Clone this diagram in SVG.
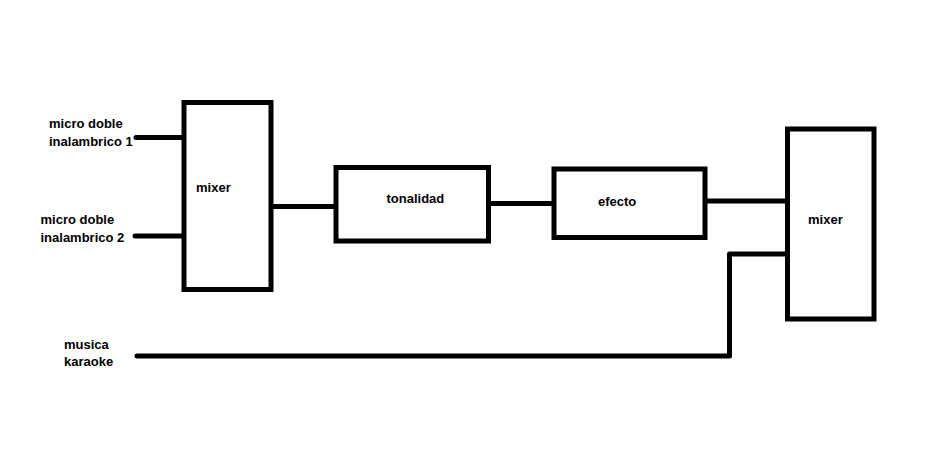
<svg xmlns="http://www.w3.org/2000/svg" width="942" height="453" viewBox="0 0 942 453">
<style>
.box{fill:#fff;stroke:#000;stroke-width:5}
.wire{fill:none;stroke:#000;stroke-width:5;stroke-linecap:round;stroke-linejoin:round}
text{font-family:"Liberation Sans",Arial,sans-serif;font-weight:bold;font-size:13px;fill:#000}
</style>
<rect width="942" height="453" fill="#fff"/>
<g id="connectors">
<path class="wire" d="M136,137.5 H184"/>
<path class="wire" d="M135,236 H184"/>
<path class="wire" d="M271,206.5 H336"/>
<path class="wire" d="M488,203.5 H554"/>
<path class="wire" d="M705,201 H787"/>
<path class="wire" d="M137,356 H729.5 V254 H787"/>
</g>
<g id="mic1"><text x="49" y="128">micro doble</text><text x="49" y="145.5">inalambrico 1</text></g>
<g id="mic2"><text x="40.5" y="224">micro doble</text><text x="40.5" y="241.5">inalambrico 2</text></g>
<g id="karaoke"><text x="64" y="348.5">musica</text><text x="64" y="366">karaoke</text></g>
<g id="mixer1"><rect class="box" x="184" y="102.5" width="87" height="187"/><text x="196" y="192">mixer</text></g>
<g id="tonalidad"><rect class="box" x="336" y="167.5" width="152.5" height="73.5"/><text x="386.5" y="203">tonalidad</text></g>
<g id="efecto"><rect class="box" x="554" y="169" width="151" height="68.5"/><text x="598" y="205.5">efecto</text></g>
<g id="mixer2"><rect class="box" x="787.5" y="129" width="86.5" height="190"/><text x="808" y="223.5">mixer</text></g>
</svg>
